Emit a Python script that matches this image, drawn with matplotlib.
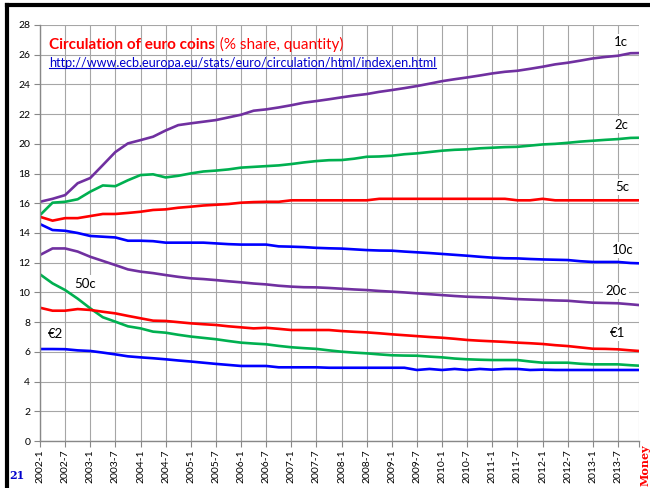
import numpy as np
import matplotlib
matplotlib.use('Agg')
import matplotlib.pyplot as plt
from matplotlib.lines import Line2D

plt.rcParams['font.family'] = ['Lato', 'DejaVu Sans']

# month index: 0 = 2002-1, quarterly readings, last one = 2013-12
months = list(range(0, 142, 3)) + [143]

c1 = [16.1, 16.3, 16.55, 17.35, 17.7, 18.57, 19.45, 20.03, 20.25, 20.48, 20.9, 21.26,
      21.38, 21.49, 21.6, 21.78, 21.96, 22.23, 22.32, 22.45, 22.6, 22.77, 22.88, 23.0,
      23.13, 23.25, 23.35, 23.5, 23.62, 23.75, 23.89, 24.05, 24.22, 24.35, 24.47, 24.6,
      24.74, 24.85, 24.92, 25.05, 25.19, 25.35, 25.46, 25.6, 25.75, 25.85, 25.93, 26.1, 26.11]
c2 = [15.2, 16.04, 16.1, 16.27, 16.78, 17.2, 17.15, 17.55, 17.9, 17.95, 17.74, 17.85,
      18.01, 18.14, 18.2, 18.28, 18.4, 18.45, 18.5, 18.55, 18.64, 18.75, 18.84, 18.9,
      18.91, 19.0, 19.13, 19.15, 19.2, 19.3, 19.36, 19.45, 19.54, 19.6, 19.63, 19.7,
      19.74, 19.78, 19.8, 19.88, 19.96, 20.0, 20.07, 20.15, 20.21, 20.27, 20.32, 20.4, 20.41]
c5 = [15.09, 14.83, 15.0, 15.0, 15.14, 15.28, 15.28, 15.35, 15.43, 15.55, 15.59, 15.7,
      15.77, 15.85, 15.9, 15.95, 16.04, 16.08, 16.1, 16.1, 16.2, 16.2, 16.2, 16.2,
      16.2, 16.2, 16.2, 16.3, 16.3, 16.3, 16.3, 16.3, 16.3, 16.3, 16.3, 16.3,
      16.3, 16.3, 16.2, 16.2, 16.3, 16.2, 16.2, 16.2, 16.2, 16.2, 16.2, 16.2, 16.2]
c10 = [14.6, 14.2, 14.15, 14.0, 13.8, 13.75, 13.7, 13.48, 13.48, 13.45, 13.35, 13.35,
       13.35, 13.35, 13.3, 13.25, 13.22, 13.22, 13.22, 13.1, 13.08, 13.05, 13.0, 12.97,
       12.95, 12.9, 12.85, 12.82, 12.81, 12.75, 12.7, 12.65, 12.59, 12.53, 12.47, 12.4,
       12.34, 12.3, 12.29, 12.25, 12.22, 12.2, 12.18, 12.1, 12.05, 12.05, 12.05, 11.98, 11.96]
c20 = [12.52, 12.96, 12.96, 12.75, 12.4, 12.12, 11.84, 11.55, 11.4, 11.3, 11.17, 11.05,
       10.95, 10.9, 10.83, 10.75, 10.68, 10.6, 10.54, 10.45, 10.39, 10.35, 10.34, 10.3,
       10.25, 10.2, 10.16, 10.1, 10.05, 10.0, 9.94, 9.88, 9.82, 9.76, 9.71, 9.68,
       9.65, 9.6, 9.55, 9.52, 9.49, 9.46, 9.44, 9.37, 9.31, 9.29, 9.27, 9.2, 9.15]
c50 = [11.22, 10.61, 10.16, 9.58, 8.93, 8.33, 8.03, 7.72, 7.58, 7.36, 7.29, 7.15,
       7.03, 6.94, 6.85, 6.73, 6.62, 6.56, 6.51, 6.4, 6.31, 6.25, 6.2, 6.1,
       6.01, 5.95, 5.9, 5.83, 5.77, 5.75, 5.74, 5.68, 5.63, 5.55, 5.5, 5.47,
       5.45, 5.45, 5.45, 5.35, 5.27, 5.27, 5.27, 5.2, 5.16, 5.16, 5.16, 5.1, 5.07]
e1 = [8.97, 8.77, 8.77, 8.88, 8.82, 8.7, 8.59, 8.42, 8.26, 8.1, 8.08, 8.0,
      7.92, 7.86, 7.81, 7.72, 7.65, 7.58, 7.62, 7.55, 7.47, 7.47, 7.47, 7.47,
      7.4, 7.35, 7.31, 7.25, 7.18, 7.12, 7.06, 7.0, 6.95, 6.88, 6.8, 6.75,
      6.71, 6.67, 6.62, 6.58, 6.53, 6.45, 6.39, 6.3, 6.21, 6.2, 6.17, 6.1, 6.06]
e2 = [6.19, 6.19, 6.18, 6.1, 6.06, 5.95, 5.83, 5.7, 5.63, 5.57, 5.5, 5.42,
      5.35, 5.27, 5.19, 5.12, 5.05, 5.05, 5.05, 4.96, 4.96, 4.96, 4.96, 4.93,
      4.93, 4.93, 4.93, 4.93, 4.93, 4.93, 4.78, 4.85, 4.78, 4.85, 4.78, 4.85,
      4.8, 4.85, 4.85, 4.78, 4.8, 4.78, 4.78, 4.78, 4.78, 4.78, 4.78, 4.78, 4.78]

tick_months = list(range(0, 139, 6))
tick_labels = ['%d-%d' % (2002 + m // 12, 1 + m % 12) for m in tick_months]

purple = '#7030A0'
green = '#00B050'
red = '#FF0000'
blue = '#0000FF'

series = [(c1, purple, '1c', 138.8, 26.87), (c2, green, '2c', 138.9, 21.3),
          (c5, red, '5c', 138.9, 17.1), (c10, blue, '10c', 139.1, 12.85),
          (c20, purple, '20c', 137.6, 10.1), (c50, green, '50c', 10.8, 10.6),
          (e1, red, '€1', 137.9, 7.25), (e2, blue, '€2', 3.6, 7.2)]

fig = plt.figure(figsize=(6.5, 4.88), dpi=100)
ax = fig.add_axes([0.0615, 0.0963, 0.9215, 0.8525])

for vals, col, name, lx, ly in series:
    ax.plot(months, vals, color=col, lw=1.9, solid_joinstyle='round')
    ax.text(lx, ly, name, fontsize=9.5, ha='center', va='center', color='black',
            bbox=dict(facecolor='white', edgecolor='none', pad=1.5), zorder=5)

ax.set_xlim(0, 143)
ax.set_ylim(0, 28)
ax.set_yticks(range(0, 29, 2))
ax.set_xticks(tick_months + [143])
ax.set_xticklabels(tick_labels + [''], rotation=90, fontsize=7.5)
ax.tick_params(axis='y', labelsize=7.5, length=4, color='#888888', pad=3)
ax.tick_params(axis='x', length=4, color='#888888', pad=2)
ax.grid(True, color='#a6a6a6', lw=0.8)
ax.set_axisbelow(True)
for s in ['top', 'right']:
    ax.spines[s].set_visible(False)
for s in ['left', 'bottom']:
    ax.spines[s].set_color('#888888')
    ax.spines[s].set_linewidth(1.0)

ax.text(0.015, 0.952, 'Circulation of euro coins', transform=ax.transAxes,
        color=red, fontsize=11, fontweight='bold', va='center')
ax.text(0.2935, 0.952, ' (% share, quantity)', transform=ax.transAxes,
        color=red, fontsize=11, va='center')
url = ax.text(0.015, 0.909, 'http://www.ecb.europa.eu/stats/euro/circulation/html/index.en.html',
              transform=ax.transAxes, color='#0000CC', fontsize=9.1, va='center')

# slide frame and page marks
fig.add_artist(Line2D([0.011, 0.011], [0.0, 0.99], color='black', lw=3))
fig.add_artist(Line2D([0.011, 1.0], [0.99, 0.99], color='black', lw=3))
fig.text(0.026, 0.015, '21', color='#0000CC', fontsize=8, fontweight='bold',
         family='DejaVu Serif', ha='center', va='bottom')
fig.text(0.993, 0.005, 'Money', color=red, fontsize=8, fontweight='bold',
         family='DejaVu Serif', rotation=90, ha='center', va='bottom')

fig.canvas.draw()
bb = url.get_window_extent()
W, H = fig.bbox.width, fig.bbox.height
fig.add_artist(Line2D([bb.x0 / W, bb.x1 / W], [(bb.y0 + 1) / H] * 2, color='#0000CC', lw=0.8))

fig.savefig('out.png', dpi=100)
